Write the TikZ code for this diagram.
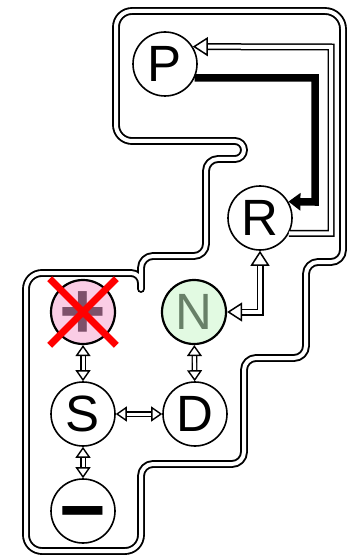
\documentclass[tikz,border=0pt]{standalone}
\usepackage{fontspec}
\setmainfont{Liberation Sans}
\usetikzlibrary{arrows.meta}

\definecolor{gearpink}{RGB}{250,205,229}
\definecolor{plusmauve}{RGB}{125,80,106}
\definecolor{gearmint}{RGB}{226,250,226}
\definecolor{neutralgrey}{RGB}{104,128,104}

\tikzset{
  gear/.style={circle, draw, line width=1.6pt, minimum size=64pt, inner sep=0pt,
    font=\fontsize{51}{51}\selectfont},
  sign/.style={font=\fontsize{80}{80}\selectfont\bfseries, text height=52pt, text depth=0pt},
  wall/.style={double, double distance=4pt, line width=1.9pt, line join=round},
  hollow/.style={double, double distance=4pt, line width=1.5pt},
  thinhollow/.style={double, double distance=3pt, line width=1.4pt},
  smallhead/.tip={Triangle[open, fill=white, length=11pt, width=15pt]},
  bighead/.tip={Triangle[open, fill=white, length=15pt, width=19pt]},
  thickarrow/.style={line width=7.5pt, -{Triangle[length=12pt, width=17pt]}},
  cross/.style={red, line width=7pt, shorten <=-14pt, shorten >=-14pt}
}

\begin{document}
\begin{tikzpicture}[x=1pt, y=-1pt]
  \useasboundingbox (0,0) rectangle (349,556);

  % Gate outline
  \draw[wall] (230,11) [rounded corners=18pt] -- (343,11) [rounded corners=12pt] -- (343,262)
    -- (306,262) -- (306,358) -- (244,358) -- (244,464) -- (141,464) [rounded corners=16pt]
    -- (141,551) -- (26,551) -- (26,273) [rounded corners=10pt] -- (141,273) [sharp corners]
    -- (141,289) [rounded corners=12pt] -- (141,256) -- (206,256) -- (206,159)
    [rounded corners=9pt] -- (244,159) -- (244,141) [rounded corners=16pt] -- (116,141)
    -- (116,11) -- cycle;

  % Gear positions
  \node[gear] (P) at (165,64) {P};
  \node[gear] (R) at (260,218) {R};
  \node[gear, fill=gearpink, line width=2.2pt, text=plusmauve, sign] (plus) at (83,312) {\makebox[0pt]{+}};
  \node[gear, fill=gearmint, line width=2.2pt, text=neutralgrey] (N) at (194,312) {N};
  \node[gear] (S) at (83,414) {S};
  \node[gear] (D) at (195,414) {D};
  \node[gear, sign] (minus) at (83,511) {\makebox[0pt]{−}};

  % Plus is not available
  \draw[cross] (plus.north west) -- (plus.south east);
  \draw[cross] (plus.north east) -- (plus.south west);

  % P to R and back
  \coordinate (pr) at (315,202);
  \coordinate (rp) at (331,47);
  \draw[thickarrow] (P.-25) -| (pr) -- (R.30);
  \draw[hollow, -{bighead}] (R.-28) -| (rp) -- (P.32);

  % Moves between the gears
  \draw[hollow, {bighead}-{bighead}] (N.east) -| (R.south);
  \draw[thinhollow, {smallhead}-{smallhead}] (plus) -- (S);
  \draw[thinhollow, {smallhead}-{smallhead}] (N) -- (D);
  \draw[thinhollow, {smallhead}-{smallhead}] (S) -- (D);
  \draw[thinhollow, {smallhead}-{smallhead}] (S) -- (minus);
\end{tikzpicture}
\end{document}
